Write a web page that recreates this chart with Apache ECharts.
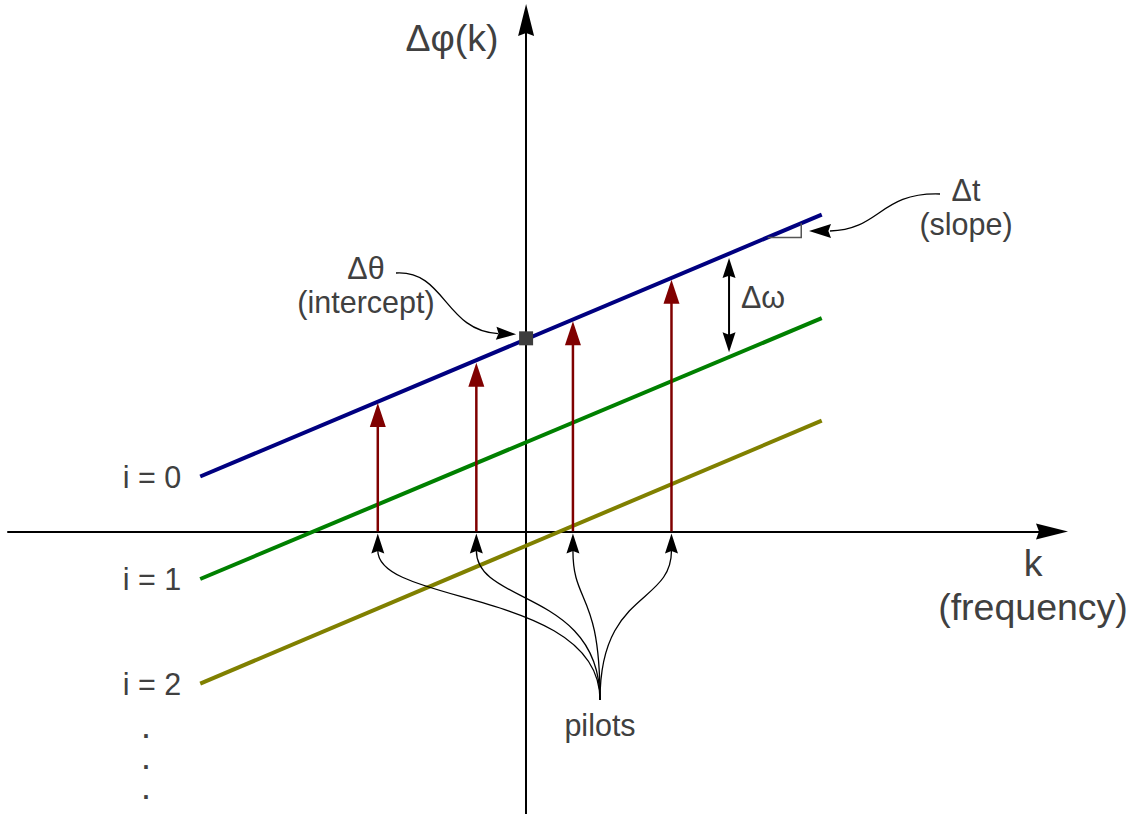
<!DOCTYPE html>
<html>
<head>
<meta charset="utf-8">
<script src="https://cdn.jsdelivr.net/npm/echarts@6/dist/echarts.min.js"></script>
<style>
  html, body { margin: 0; padding: 0; background: #ffffff; }
  #chart { width: 1141px; height: 814px; }
</style>
</head>
<body>
<div id="chart"></div>
<script>
// Phase difference Δφ(k) across subcarriers k for successive symbols i = 0, 1, 2
const lineNames = ['i = 0', 'i = 1', 'i = 2'];
const lineK = [-3.34, 3.03];               // k at the two ends of each phase line
const lineStart = [0.53, -0.46, -1.47];    // Δφ at the left end
const lineEnd = [3.06, 2.06, 1.07];        // Δφ at the right end

// Pilot subcarriers and the phase measured on them (symbol i = 0)
const pilotK = [-1.52, -0.51, 0.48, 1.49];
const pilotPhase = [1.24, 1.63, 2.03, 2.43];

// Intercept Δθ of the i = 0 line at k = 0
const interceptK = [0];
const interceptPhase = [1.865];

// Δω: phase step between consecutive symbols, marked at k = 2.08
const omegaK = [2.08];
const omegaSpan = [2.64, 1.73];

const TEXT = '#404040';
const FONT = "'Liberation Sans', Arial, sans-serif";
const BIG = 37.5, MID = 30.5;
const lineColors = ['#000080', '#008000', '#808000'];
const PILOT_RED = '#800000';

const chart = echarts.init(document.getElementById('chart'), null, { renderer: 'svg' });

// arrowhead polygon: tip (tx,ty), unit direction (ux,uy) pointing to the tip
function head(tx, ty, ux, uy, len, w, notch, color) {
  const bx = tx - ux * len, by = ty - uy * len;
  const nx = -uy, ny = ux;
  const mx = tx - ux * len * (1 - notch), my = ty - uy * len * (1 - notch);
  return {
    type: 'polygon',
    shape: { points: [[tx, ty], [bx + nx * w / 2, by + ny * w / 2], [mx, my], [bx - nx * w / 2, by - ny * w / 2]] },
    style: { fill: color, stroke: null }
  };
}
function curve(x1, y1, cpx1, cpy1, cpx2, cpy2, x2, y2) {
  return {
    type: 'bezierCurve',
    shape: { x1, y1, cpx1, cpy1, cpx2, cpy2, x2, y2 },
    style: { stroke: '#000', lineWidth: 1.3, fill: null }
  };
}
function phaseOnLine(i, k) {
  const t = (k - lineK[0]) / (lineK[1] - lineK[0]);
  return lineStart[i] + t * (lineEnd[i] - lineStart[i]);
}
function label(text, x, y, size, align) {
  return {
    type: 'text', x, y,
    style: { text, fontSize: size, fontFamily: FONT, fill: TEXT, align: align || 'center', verticalAlign: 'middle' }
  };
}
// one dot of the vertical ellipsis below the i labels
function dot(y) {
  return {
    type: 'text', x: 146, y,
    style: { text: '.', fontSize: 25, fontWeight: 'bold', lineHeight: 10, fontFamily: FONT, fill: TEXT, align: 'center', verticalAlign: 'middle' }
  };
}

const axisArrow = 'path://M8,0 L16,32 L8,29 L0,32 Z';

const phaseLines = lineNames.map((name, i) => ({
  name,
  type: 'line',
  data: [[lineK[0], lineStart[i]], [lineK[1], lineEnd[i]]],
  symbol: 'none',
  lineStyle: { color: lineColors[i], width: 4 },
  z: 3,
  silent: true
}));

const option = {
  animation: false,
  backgroundColor: '#ffffff',
  textStyle: { fontFamily: FONT },
  grid: { left: 8, right: 89, top: 20, bottom: 0 },
  xAxis: {
    type: 'value', min: -5.31, max: 5.39,
    axisLine: { onZero: true, symbol: ['none', axisArrow], symbolSize: [16, 32], lineStyle: { color: '#000', width: 2 } },
    axisTick: { show: false }, axisLabel: { show: false }, splitLine: { show: false }
  },
  yAxis: {
    type: 'value', min: -2.73, max: 4.94,
    axisLine: { onZero: true, symbol: ['none', axisArrow], symbolSize: [16, 32], lineStyle: { color: '#000', width: 2 } },
    axisTick: { show: false }, axisLabel: { show: false }, splitLine: { show: false }
  },
  series: [
    ...phaseLines,
    {
      // "i = n" labels at the left end of each line
      type: 'scatter',
      data: lineNames.map((name, i) => ({ value: [lineK[0], lineStart[i]], name })),
      symbolSize: 0,
      silent: true,
      itemStyle: { opacity: 1 },
      label: {
        show: true, position: 'left', distance: 19,
        formatter: p => p.name,
        color: TEXT, opacity: 1, fontSize: MID, fontFamily: FONT, textBorderWidth: 0
      },
      z: 4
    },
    {
      // pilot phases: red arrows up from the k axis, black pointers from the "pilots" note
      type: 'custom',
      data: pilotK.map((k, i) => [k, pilotPhase[i]]),
      clip: false,
      z: 5,
      renderItem: (params, api) => {
        const k = api.value(0), ph = api.value(1);
        const base = api.coord([k, 0]);
        const tip = api.coord([k, ph]);
        const hub = [600, 700];
        const bt = base[1] + 2;
        return {
          type: 'group',
          children: [
            { type: 'line', shape: { x1: base[0], y1: base[1], x2: tip[0], y2: tip[1] + 20 }, style: { stroke: PILOT_RED, lineWidth: 2.5 } },
            head(tip[0], tip[1], 0, -1, 24, 16, 0, PILOT_RED),
            curve(base[0], bt + 17, base[0], bt + 72, hub[0], hub[1] - 110, hub[0], hub[1]),
            head(base[0], bt, 0, -1, 20, 13, 0.12, '#000')
          ]
        };
      }
    },
    {
      // Δω spacing between the i = 0 and i = 1 lines
      type: 'custom',
      data: omegaK.map(k => [k, omegaSpan[0], omegaSpan[1]]),
      clip: false,
      z: 5,
      renderItem: (params, api) => {
        const top = api.coord([api.value(0), api.value(1)]);
        const bot = api.coord([api.value(0), api.value(2)]);
        return {
          type: 'group',
          children: [
            { type: 'line', shape: { x1: top[0], y1: top[1] + 10, x2: bot[0], y2: bot[1] - 10 }, style: { stroke: '#000', lineWidth: 2 } },
            head(top[0], top[1], 0, -1, 20, 13, 0.12, '#000'),
            head(bot[0], bot[1], 0, 1, 20, 13, 0.12, '#000')
          ]
        };
      }
    },
    {
      // slope marker at the right end of the i = 0 line, with its Δt pointer
      type: 'custom',
      data: [[2.82, 2.84]],
      clip: false,
      z: 5,
      renderItem: (params, api) => {
        const kc = api.value(0), yc = api.value(1);
        const corner = api.coord([kc, yc]);
        const up = api.coord([kc, phaseOnLine(0, kc)]);
        const kLeft = lineK[0] + (yc - lineStart[0]) / (lineEnd[0] - lineStart[0]) * (lineK[1] - lineK[0]);
        const left = api.coord([kLeft, yc]);
        return {
          type: 'group',
          children: [
            { type: 'polyline', shape: { points: [[left[0], corner[1]], corner, [corner[0], up[1]]] }, style: { stroke: '#555', lineWidth: 1.5, fill: null } },
            curve(940, 194, 880, 192, 880, 230, 830, 231),
            head(809, 231, -1, 0, 22, 14, 0.12, '#000')
          ]
        };
      }
    },
    {
      // Δθ: the intercept of the i = 0 line on the phase axis
      type: 'custom',
      data: interceptK.map((k, i) => [k, interceptPhase[i]]),
      clip: false,
      z: 6,
      renderItem: (params, api) => {
        const p = api.coord([api.value(0), api.value(1)]);
        const tip = [p[0] - 10, p[1] - 4];
        return {
          type: 'group',
          children: [
            curve(396, 273, 445, 270, 445, 331, tip[0] - 18, tip[1] - 0.8),
            head(tip[0], tip[1], 0.998, 0.05, 20, 13, 0.12, '#000'),
            { type: 'rect', shape: { x: p[0] - 7, y: p[1] - 7, width: 14, height: 14 }, style: { fill: '#3d3d3d' } }
          ]
        };
      }
    }
  ],
  graphic: [
    label('Δφ(k)', 452, 38, BIG),
    label('k', 1033, 563, BIG),
    label('(frequency)', 1033, 607, BIG),
    label('Δθ', 366, 268, MID),
    label('(intercept)', 366, 302, MID),
    label('Δt', 966, 190, MID),
    label('(slope)', 966, 224, MID),
    label('Δω', 741, 297, MID, 'left'),
    label('pilots', 600, 725, MID),
    dot(729), dot(760), dot(790)
  ]
};

chart.setOption(option);
</script>
</body>
</html>
